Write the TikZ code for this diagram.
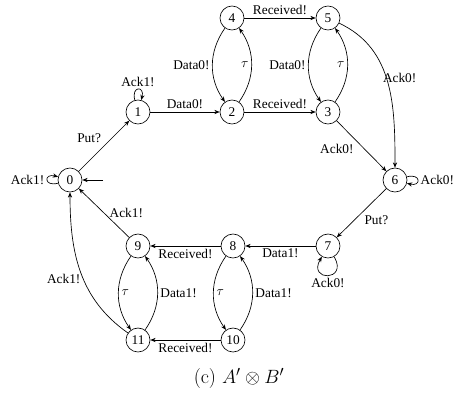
\documentclass[tikz,border=0pt]{standalone}
\usepackage{fontspec}
\newfontfamily\tms{Liberation Serif}
\usetikzlibrary{arrows.meta}
\begin{document}
\begin{tikzpicture}[x=0.75pt,y=-0.75pt,
  st/.style={circle,draw,line width=0.5pt,minimum size=18pt,inner sep=0pt,font=\tms\fontsize{10}{12}\selectfont},
  lb/.style={font=\tms\fontsize{10}{12}\selectfont,inner sep=2pt},
  edge/.style={draw,line width=0.5pt,-{Stealth[length=4pt,width=3.2pt]}},
  lp/.style={edge,looseness=6,min distance=9pt}]
\useasboundingbox (0,0) rectangle (459,393);
\node[st] (n0) at (70,180) {0};
\node[st] (n1) at (138,112) {1};
\node[st] (n2) at (232,112) {2};
\node[st] (n3) at (328,112) {3};
\node[st] (n4) at (232,18) {4};
\node[st] (n5) at (328,18) {5};
\node[st] (n6) at (395,180) {6};
\node[st] (n7) at (328,246) {7};
\node[st] (n8) at (233,246) {8};
\node[st] (n9) at (138,246) {9};
\node[st] (n10) at (233,340) {10};
\node[st] (n11) at (138,340) {11};
\coordinate (init) at (103,180);
\path[edge] (init) -- (n0);
\path[lp] (n0) to[out=195,in=165] node[lb,left] {Ack1!} (n0);
\path[edge] (n0) -- node[lb,above left] {Put?} (n1);
\path[lp] (n1) to[out=105,in=75] node[lb,above] {Ack1!} (n1);
\path[edge] (n1) -- node[lb,above] {Data0!} (n2);
\path[edge] (n2) -- node[lb,above] {Received!} (n3);
\path[edge] (n4) to[bend right=35] node[lb,left] {Data0!} (n2);
\path[edge] (n2) to[bend right=35] node[lb,left] {$\tau$} (n4);
\path[edge] (n4) -- node[lb,above] {Received!} (n5);
\path[edge] (n5) to[bend right=35] node[lb,left] {Data0!} (n3);
\path[edge] (n3) to[bend right=35] node[lb,left] {$\tau$} (n5);
\path[edge] (n5) to[out=-25,in=90] node[lb,right,pos=0.45,xshift=-4pt,yshift=-2pt] {Ack0!} (n6);
\path[edge] (n3) -- node[lb,below left,pos=0.4] {Ack0!} (n6);
\path[lp] (n6) to[out=15,in=-15] node[lb,right] {Ack0!} (n6);
\path[edge] (n6) -- node[lb,below right] {Put?} (n7);
\path[lp] (n7) to[out=-60,in=-120] node[lb,below] {Ack0!} (n7);
\path[edge] (n7) -- node[lb,below] {Data1!} (n8);
\path[edge] (n8) -- node[lb,below] {Received!} (n9);
\path[edge] (n8) to[bend right=35] node[lb,right] {$\tau$} (n10);
\path[edge] (n10) to[bend right=35] node[lb,right] {Data1!} (n8);
\path[edge] (n9) to[bend right=35] node[lb,right] {$\tau$} (n11);
\path[edge] (n11) to[bend right=35] node[lb,right] {Data1!} (n9);
\path[edge] (n10) -- node[lb,below] {Received!} (n11);
\path[edge] (n9) -- node[lb,right,xshift=2pt] {Ack1!} (n0);
\path[edge] (n11) to[out=145,in=-90] node[lb,left,pos=0.45] {Ack1!} (n0);
\node[font=\fontsize{15}{18}\selectfont] (cap) at (239,378) {(c)~$A'\otimes B'$};
\end{tikzpicture}
\end{document}
